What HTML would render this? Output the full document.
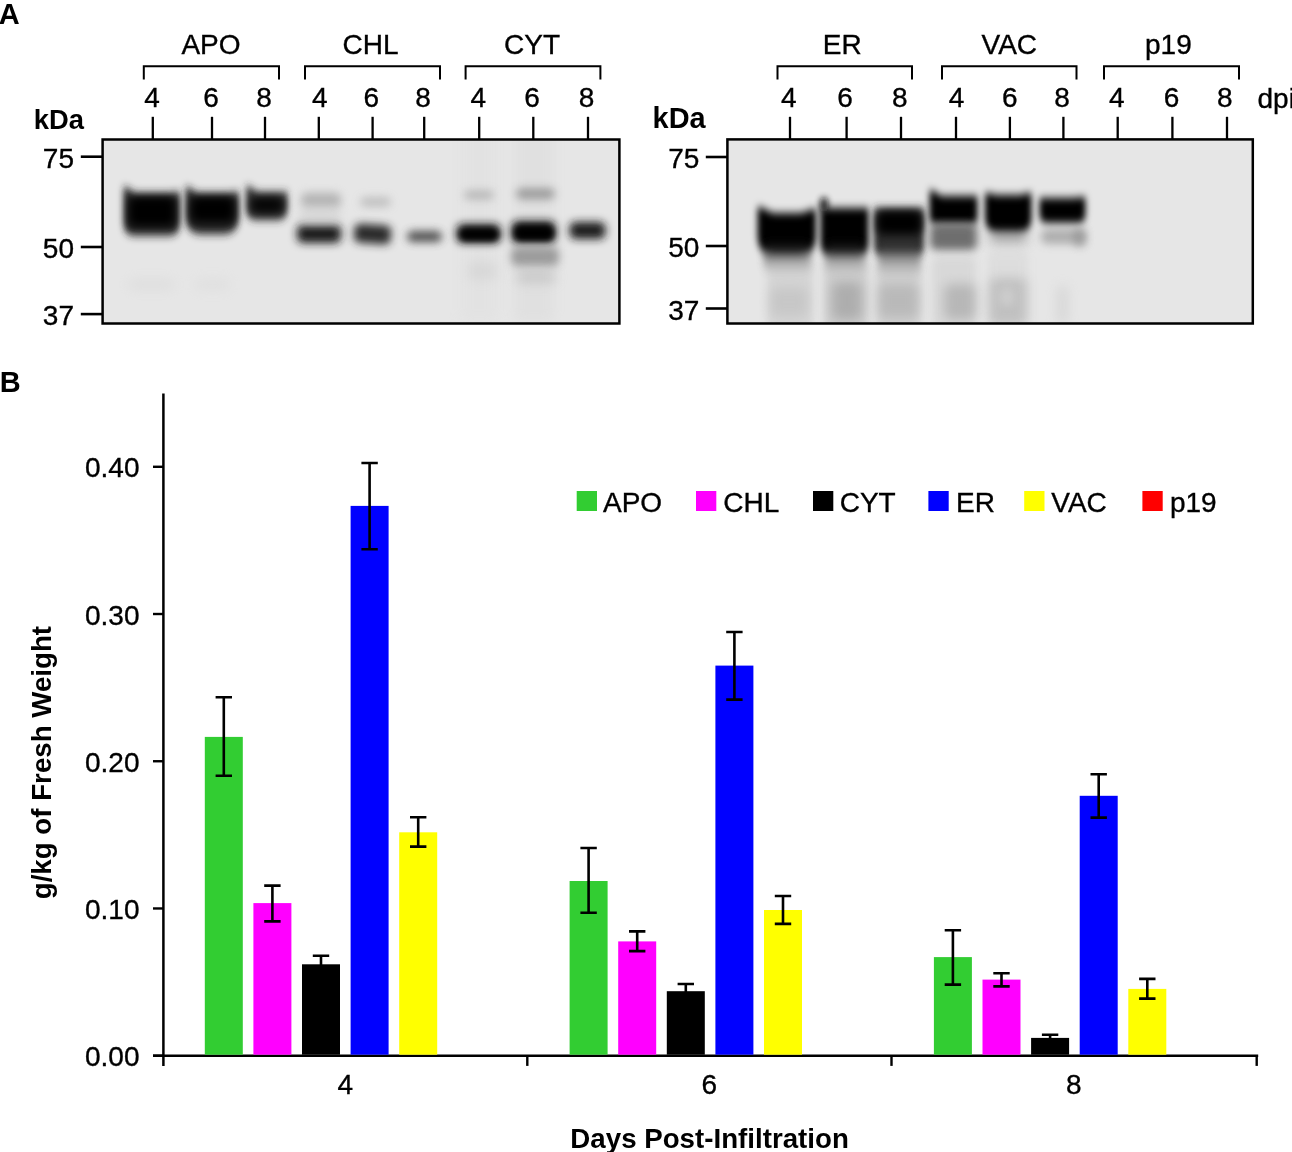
<!DOCTYPE html>
<html lang="en"><head><meta charset="utf-8"><title>Figure</title>
<style>html,body{margin:0;padding:0;background:#fff}svg{display:block}</style></head>
<body>
<svg width="1292" height="1152" viewBox="0 0 1292 1152" font-family="'Liberation Sans', sans-serif" fill="#000">
<defs>
<filter id="b2" filterUnits="userSpaceOnUse" x="0" y="100" width="1292" height="260"><feGaussianBlur stdDeviation="2"/></filter>
<filter id="b3" filterUnits="userSpaceOnUse" x="0" y="100" width="1292" height="260"><feGaussianBlur stdDeviation="3"/></filter>
<filter id="b35" filterUnits="userSpaceOnUse" x="0" y="100" width="1292" height="260"><feGaussianBlur stdDeviation="3 4.5"/></filter>
<filter id="bv" filterUnits="userSpaceOnUse" x="0" y="100" width="1292" height="260"><feGaussianBlur stdDeviation="3.5 7"/></filter>
<filter id="b4" filterUnits="userSpaceOnUse" x="0" y="100" width="1292" height="260"><feGaussianBlur stdDeviation="4"/></filter>
<filter id="b6" filterUnits="userSpaceOnUse" x="0" y="100" width="1292" height="260"><feGaussianBlur stdDeviation="6"/></filter>
<clipPath id="cl"><rect x="103" y="140" width="516" height="183"/></clipPath>
<clipPath id="cr"><rect x="728" y="140" width="525" height="183"/></clipPath>
</defs>
<rect width="1292" height="1152" fill="#fff"/>
<text x="-1.2" y="24" text-anchor="start" font-size="29" font-weight="bold">A</text>
<text x="-0.2" y="392.2" text-anchor="start" font-size="29" font-weight="bold">B</text>
<rect x="102.6" y="139.5" width="516.8" height="184" fill="#e6e6e6"/>
<rect x="727.4" y="139.4" width="525.4" height="184.1" fill="#e6e6e6"/>
<g clip-path="url(#cl)">
<rect x="460" y="120" width="38" height="203" rx="6" fill="#d8d8d8" opacity="0.22" filter="url(#b6)"/>
<rect x="514" y="120" width="40" height="203" rx="6" fill="#d4d4d4" opacity="0.32" filter="url(#b6)"/>
<path d="M123.5 187C129.1 187 131.9 193 137.5 193L166 193C171.6 193 174.4 192 180 192L180 223.5Q180 235.5 168 235.5L135.5 235.5Q123.5 235.5 123.5 223.5Z" fill="#222" opacity="1" filter="url(#b35)"/>
<rect x="129" y="197" width="46" height="29" rx="6" fill="#000" opacity="1" filter="url(#b4)"/>
<path d="M185.5 187C191.1 187 193.9 193 199.5 193L225 193C230.6 193 233.4 192 239 192L239 217Q239 234 222 234L202.5 234Q185.5 234 185.5 217Z" fill="#222" opacity="1" filter="url(#b35)"/>
<rect x="191" y="197" width="43" height="25" rx="6" fill="#000" opacity="1" filter="url(#b4)"/>
<path d="M246 186C251.6 186 254.4 192 260 192L273.5 192C279.1 192 281.9 192 287.5 192L287.5 209Q287.5 220 276.5 220L257 220Q246 220 246 209Z" fill="#2e2e2e" opacity="1" filter="url(#b35)"/>
<rect x="251" y="197" width="32" height="16" rx="6" fill="#000" opacity="0.85" filter="url(#b4)"/>
<rect x="128" y="279" width="47" height="11" rx="6" fill="#ccc" opacity="0.3" filter="url(#b6)"/>
<rect x="195" y="279" width="35" height="11" rx="6" fill="#ccc" opacity="0.25" filter="url(#b6)"/>
<rect x="297" y="224.5" width="44" height="18.5" rx="6" fill="#1e1e1e" opacity="1" filter="url(#b4)"/>
<rect x="301" y="192.5" width="40" height="15.5" rx="6" fill="#999" opacity="0.62" filter="url(#b4)"/>
<rect x="300" y="207" width="40" height="18" rx="6" fill="#ccc" opacity="0.5" filter="url(#b4)"/>
<g transform="rotate(4 372 234)">
<rect x="354" y="224.5" width="37" height="19.0" rx="6" fill="#2a2a2a" opacity="1" filter="url(#b4)"/>
</g>
<rect x="360" y="197" width="31" height="10" rx="6" fill="#b0b0b0" opacity="0.7" filter="url(#b4)"/>
<rect x="407" y="231" width="35" height="11" rx="6" fill="#4a4a4a" opacity="0.95" filter="url(#b4)"/>
<rect x="456.5" y="224" width="44.0" height="19" rx="6" fill="#161616" opacity="1" filter="url(#b4)"/>
<rect x="460" y="229" width="38" height="11" rx="6" fill="#000" opacity="1" filter="url(#b3)"/>
<rect x="464" y="190.5" width="30" height="9.0" rx="6" fill="#a8a8a8" opacity="0.75" filter="url(#b4)"/>
<rect x="511.5" y="221" width="44.0" height="22" rx="6" fill="#161616" opacity="1" filter="url(#b4)"/>
<rect x="514.5" y="226" width="39.0" height="14" rx="6" fill="#000" opacity="1" filter="url(#b3)"/>
<rect x="516" y="188" width="39" height="11.5" rx="6" fill="#8c8c8c" opacity="0.8" filter="url(#b4)"/>
<rect x="511" y="247" width="48" height="19" rx="6" fill="#8a8a8a" opacity="0.8" filter="url(#b4)"/>
<rect x="516" y="271" width="40" height="12" rx="6" fill="#b8b8b8" opacity="0.6" filter="url(#b6)"/>
<rect x="468" y="262" width="29" height="18" rx="6" fill="#c4c4c4" opacity="0.35" filter="url(#b6)"/>
<rect x="569.5" y="222" width="36.0" height="17" rx="6" fill="#1c1c1c" opacity="1" filter="url(#b4)"/>
</g>
<g clip-path="url(#cr)">
<path d="M757.5 207C764.7 207 768.3 213 775.5 213L798 213C805.2 213 808.8 209 816 209L816 236Q816 256 796 256L777.5 256Q757.5 256 757.5 236Z" fill="#050505" opacity="1" filter="url(#b35)"/>
<rect x="763" y="249" width="48" height="16" rx="6" fill="#555" opacity="0.7" filter="url(#bv)"/>
<path d="M820.5 208C826.1 208 828.9 208 834.5 208L854.5 208C860.1 208 862.9 208 868.5 208L868.5 242.5Q868.5 256.5 854.5 256.5L834.5 256.5Q820.5 256.5 820.5 242.5Z" fill="#050505" opacity="1" filter="url(#b35)"/>
<rect x="820" y="197" width="8" height="15" rx="6" fill="#111" opacity="0.9" filter="url(#b3)"/>
<rect x="825" y="249" width="40" height="16" rx="6" fill="#555" opacity="0.7" filter="url(#bv)"/>
<path d="M874 208C879.6 208 882.4 208 888 208L910 208C915.6 208 918.4 208 924 208L924 246Q924 256 914 256L884 256Q874 256 874 246Z" fill="#2a2a2a" opacity="1" filter="url(#b35)"/>
<rect x="877" y="211" width="44.5" height="23" rx="6" fill="#000" opacity="1" filter="url(#b4)"/>
<rect x="878" y="250" width="43" height="18" rx="6" fill="#666" opacity="0.7" filter="url(#bv)"/>
<path d="M929.5 190C935.1 190 937.9 196 943.5 196L963.5 196C969.1 196 971.9 196 977.5 196L977.5 218Q977.5 224 971.5 224L935.5 224Q929.5 224 929.5 218Z" fill="#050505" opacity="1" filter="url(#b35)"/>
<rect x="930" y="224" width="47" height="26" rx="6" fill="#5a5a5a" opacity="0.85" filter="url(#b4)"/>
<path d="M985 193C990.6 193 993.4 195 999 195L1017.5 195C1023.1 195 1025.9 193 1031.5 193L1031.5 218Q1031.5 233 1016.5 233L1000 233Q985 233 985 218Z" fill="#050505" opacity="1" filter="url(#b35)"/>
<rect x="989" y="233" width="39" height="10" rx="6" fill="#888" opacity="0.7" filter="url(#b6)"/>
<path d="M1039.5 198C1045.1 198 1047.9 198 1053.5 198L1071.5 198C1077.1 198 1079.9 197 1085.5 197L1085.5 215Q1085.5 223 1077.5 223L1047.5 223Q1039.5 223 1039.5 215Z" fill="#050505" opacity="1" filter="url(#b35)"/>
<rect x="1041" y="229" width="44" height="15" rx="6" fill="#a0a0a0" opacity="0.8" filter="url(#b4)"/>
<rect x="1074" y="228" width="12" height="19" rx="6" fill="#888" opacity="0.6" filter="url(#b4)"/>
<rect x="767" y="258" width="46" height="72" rx="6" fill="#b8b8b8" opacity="0.38" filter="url(#b4)"/>
<rect x="824" y="258" width="44" height="72" rx="6" fill="#b0b0b0" opacity="0.45" filter="url(#b4)"/>
<rect x="876" y="262" width="45" height="68" rx="6" fill="#b4b4b4" opacity="0.42" filter="url(#b4)"/>
<rect x="932" y="256" width="44" height="74" rx="6" fill="#bcbcbc" opacity="0.32" filter="url(#b4)"/>
<rect x="988" y="250" width="40" height="80" rx="6" fill="#c4c4c4" opacity="0.25" filter="url(#b4)"/>
<rect x="770" y="288" width="38" height="28" rx="6" fill="#aaa" opacity="0.3" filter="url(#b6)"/>
<rect x="832" y="282" width="30" height="38" rx="6" fill="#888" opacity="0.45" filter="url(#b6)"/>
<rect x="878" y="284" width="41" height="34" rx="6" fill="#999" opacity="0.4" filter="url(#b6)"/>
<rect x="944" y="284" width="32" height="36" rx="6" fill="#909090" opacity="0.45" filter="url(#b6)"/>
<rect x="989" y="278" width="38" height="47" rx="6" fill="#999" opacity="0.42" filter="url(#b6)"/>
<rect x="1000" y="288" width="14" height="18" rx="6" fill="#e6e6e6" opacity="0.35" filter="url(#b4)"/>
<rect x="1057" y="285" width="11" height="40" rx="6" fill="#c0c0c0" opacity="0.4" filter="url(#b6)"/>
</g>
<rect x="102.6" y="139.5" width="516.8" height="184" fill="none" stroke="#000" stroke-width="2.5"/>
<rect x="727.4" y="139.4" width="525.4" height="184.1" fill="none" stroke="#000" stroke-width="2.5"/>
<text x="33.8" y="128.5" text-anchor="start" font-size="27.4" font-weight="bold">kDa</text>
<text x="652.6" y="128.2" text-anchor="start" font-size="28.9" font-weight="bold">kDa</text>
<text x="74" y="167.7" text-anchor="end" font-size="28" stroke="#000" stroke-width="0.35">75</text>
<line x1="80.8" y1="156.7" x2="102" y2="156.7" stroke="#000" stroke-width="2.6"/>
<text x="74" y="258" text-anchor="end" font-size="28" stroke="#000" stroke-width="0.35">50</text>
<line x1="80.8" y1="247" x2="102" y2="247" stroke="#000" stroke-width="2.6"/>
<text x="74" y="325.1" text-anchor="end" font-size="28" stroke="#000" stroke-width="0.35">37</text>
<line x1="80.8" y1="314.1" x2="102" y2="314.1" stroke="#000" stroke-width="2.6"/>
<text x="699.3" y="168" text-anchor="end" font-size="28" stroke="#000" stroke-width="0.35">75</text>
<line x1="705.8" y1="157" x2="727.5" y2="157" stroke="#000" stroke-width="2.6"/>
<text x="699.3" y="257" text-anchor="end" font-size="28" stroke="#000" stroke-width="0.35">50</text>
<line x1="705.8" y1="246" x2="727.5" y2="246" stroke="#000" stroke-width="2.6"/>
<text x="699.3" y="319.5" text-anchor="end" font-size="28" stroke="#000" stroke-width="0.35">37</text>
<line x1="705.8" y1="308.5" x2="727.5" y2="308.5" stroke="#000" stroke-width="2.6"/>
<text x="211" y="53.5" text-anchor="middle" font-size="28" stroke="#000" stroke-width="0.35">APO</text>
<path d="M143.8 79.5V66.3H279V79.5" fill="none" stroke="#000" stroke-width="2"/>
<text x="152" y="106.5" text-anchor="middle" font-size="28" stroke="#000" stroke-width="0.35">4</text>
<text x="211" y="106.5" text-anchor="middle" font-size="28" stroke="#000" stroke-width="0.35">6</text>
<text x="264" y="106.5" text-anchor="middle" font-size="28" stroke="#000" stroke-width="0.35">8</text>
<line x1="152.8" y1="116.8" x2="152.8" y2="139" stroke="#000" stroke-width="2.3"/>
<line x1="212" y1="116.8" x2="212" y2="139" stroke="#000" stroke-width="2.3"/>
<line x1="265" y1="116.8" x2="265" y2="139" stroke="#000" stroke-width="2.3"/>
<text x="370.6" y="53.5" text-anchor="middle" font-size="28" stroke="#000" stroke-width="0.35">CHL</text>
<path d="M305 79.5V66.3H440V79.5" fill="none" stroke="#000" stroke-width="2"/>
<text x="319.7" y="106.5" text-anchor="middle" font-size="28" stroke="#000" stroke-width="0.35">4</text>
<text x="371.2" y="106.5" text-anchor="middle" font-size="28" stroke="#000" stroke-width="0.35">6</text>
<text x="423" y="106.5" text-anchor="middle" font-size="28" stroke="#000" stroke-width="0.35">8</text>
<line x1="318.8" y1="116.8" x2="318.8" y2="139" stroke="#000" stroke-width="2.3"/>
<line x1="372.6" y1="116.8" x2="372.6" y2="139" stroke="#000" stroke-width="2.3"/>
<line x1="424.2" y1="116.8" x2="424.2" y2="139" stroke="#000" stroke-width="2.3"/>
<text x="532" y="53.5" text-anchor="middle" font-size="28" stroke="#000" stroke-width="0.35">CYT</text>
<path d="M465.6 79.5V66.3H600.4V79.5" fill="none" stroke="#000" stroke-width="2"/>
<text x="478.3" y="106.5" text-anchor="middle" font-size="28" stroke="#000" stroke-width="0.35">4</text>
<text x="532.1" y="106.5" text-anchor="middle" font-size="28" stroke="#000" stroke-width="0.35">6</text>
<text x="586.5" y="106.5" text-anchor="middle" font-size="28" stroke="#000" stroke-width="0.35">8</text>
<line x1="479.2" y1="116.8" x2="479.2" y2="139" stroke="#000" stroke-width="2.3"/>
<line x1="533.3" y1="116.8" x2="533.3" y2="139" stroke="#000" stroke-width="2.3"/>
<line x1="588" y1="116.8" x2="588" y2="139" stroke="#000" stroke-width="2.3"/>
<text x="842.3" y="53.5" text-anchor="middle" font-size="28" stroke="#000" stroke-width="0.35">ER</text>
<path d="M777.5 79.5V66.3H912V79.5" fill="none" stroke="#000" stroke-width="2"/>
<text x="788.7" y="106.5" text-anchor="middle" font-size="28" stroke="#000" stroke-width="0.35">4</text>
<text x="845" y="106.5" text-anchor="middle" font-size="28" stroke="#000" stroke-width="0.35">6</text>
<text x="899.8" y="106.5" text-anchor="middle" font-size="28" stroke="#000" stroke-width="0.35">8</text>
<line x1="790" y1="116.8" x2="790" y2="139" stroke="#000" stroke-width="2.3"/>
<line x1="846.6" y1="116.8" x2="846.6" y2="139" stroke="#000" stroke-width="2.3"/>
<line x1="901" y1="116.8" x2="901" y2="139" stroke="#000" stroke-width="2.3"/>
<text x="1009.3" y="53.5" text-anchor="middle" font-size="28" stroke="#000" stroke-width="0.35">VAC</text>
<path d="M942 79.5V66.3H1076.5V79.5" fill="none" stroke="#000" stroke-width="2"/>
<text x="956.6" y="106.5" text-anchor="middle" font-size="28" stroke="#000" stroke-width="0.35">4</text>
<text x="1009.9" y="106.5" text-anchor="middle" font-size="28" stroke="#000" stroke-width="0.35">6</text>
<text x="1062" y="106.5" text-anchor="middle" font-size="28" stroke="#000" stroke-width="0.35">8</text>
<line x1="956" y1="116.8" x2="956" y2="139" stroke="#000" stroke-width="2.3"/>
<line x1="1009.9" y1="116.8" x2="1009.9" y2="139" stroke="#000" stroke-width="2.3"/>
<line x1="1063.4" y1="116.8" x2="1063.4" y2="139" stroke="#000" stroke-width="2.3"/>
<text x="1168.4" y="53.5" text-anchor="middle" font-size="28" stroke="#000" stroke-width="0.35">p19</text>
<path d="M1104 79.5V66.3H1239V79.5" fill="none" stroke="#000" stroke-width="2"/>
<text x="1116.9" y="106.5" text-anchor="middle" font-size="28" stroke="#000" stroke-width="0.35">4</text>
<text x="1171.5" y="106.5" text-anchor="middle" font-size="28" stroke="#000" stroke-width="0.35">6</text>
<text x="1224.8" y="106.5" text-anchor="middle" font-size="28" stroke="#000" stroke-width="0.35">8</text>
<line x1="1117.7" y1="116.8" x2="1117.7" y2="139" stroke="#000" stroke-width="2.3"/>
<line x1="1172.4" y1="116.8" x2="1172.4" y2="139" stroke="#000" stroke-width="2.3"/>
<line x1="1227" y1="116.8" x2="1227" y2="139" stroke="#000" stroke-width="2.3"/>
<text x="1257.5" y="107.5" text-anchor="start" font-size="28" stroke="#000" stroke-width="0.35">dpi</text>
<line x1="163.4" y1="393.5" x2="163.4" y2="1065.9" stroke="#000" stroke-width="2.5"/>
<line x1="153" y1="1055.7" x2="1258.2" y2="1055.7" stroke="#000" stroke-width="2.5"/>
<line x1="153" y1="1055.7" x2="163.4" y2="1055.7" stroke="#000" stroke-width="2.4"/>
<text x="139.5" y="1066.4" text-anchor="end" font-size="28" stroke="#000" stroke-width="0.35">0.00</text>
<line x1="153" y1="908.47" x2="163.4" y2="908.47" stroke="#000" stroke-width="2.4"/>
<text x="139.5" y="919.1700000000001" text-anchor="end" font-size="28" stroke="#000" stroke-width="0.35">0.10</text>
<line x1="153" y1="761.24" x2="163.4" y2="761.24" stroke="#000" stroke-width="2.4"/>
<text x="139.5" y="771.94" text-anchor="end" font-size="28" stroke="#000" stroke-width="0.35">0.20</text>
<line x1="153" y1="614.01" x2="163.4" y2="614.01" stroke="#000" stroke-width="2.4"/>
<text x="139.5" y="624.71" text-anchor="end" font-size="28" stroke="#000" stroke-width="0.35">0.30</text>
<line x1="153" y1="466.7800000000001" x2="163.4" y2="466.7800000000001" stroke="#000" stroke-width="2.4"/>
<text x="139.5" y="477.4800000000001" text-anchor="end" font-size="28" stroke="#000" stroke-width="0.35">0.40</text>
<line x1="527.3" y1="1055.7" x2="527.3" y2="1065.9" stroke="#000" stroke-width="2.4"/>
<line x1="891.5" y1="1055.7" x2="891.5" y2="1065.9" stroke="#000" stroke-width="2.4"/>
<line x1="1256.7" y1="1055.7" x2="1256.7" y2="1065.9" stroke="#000" stroke-width="2.4"/>
<rect x="204.8" y="736.9" width="38" height="317.8" fill="#32cd32"/>
<path d="M215.6 697.3H232.0M223.8 697.3V775.8M215.6 775.8H232.0" stroke="#000" stroke-width="2.6" fill="none"/>
<rect x="253.4" y="903.1" width="38" height="151.6" fill="#ff00ff"/>
<path d="M264.2 885.6H280.6M272.4 885.6V921.4M264.2 921.4H280.6" stroke="#000" stroke-width="2.6" fill="none"/>
<rect x="302.0" y="964.3" width="38" height="90.4" fill="#000000"/>
<path d="M312.8 955.7H329.2M321.0 955.7V968M312.8 968H329.2" stroke="#000" stroke-width="2.6" fill="none"/>
<rect x="350.6" y="505.9" width="38" height="548.8" fill="#0000ff"/>
<path d="M361.4 463H377.8M369.6 463V549.3M361.4 549.3H377.8" stroke="#000" stroke-width="2.6" fill="none"/>
<rect x="399.2" y="832.3" width="38" height="222.4" fill="#ffff00"/>
<path d="M410.0 817.3H426.4M418.2 817.3V846.6M410.0 846.6H426.4" stroke="#000" stroke-width="2.6" fill="none"/>
<rect x="569.6" y="881" width="38" height="173.7" fill="#32cd32"/>
<path d="M580.4 848H596.8M588.6 848V912.8M580.4 912.8H596.8" stroke="#000" stroke-width="2.6" fill="none"/>
<rect x="618.2" y="941.4" width="38" height="113.3" fill="#ff00ff"/>
<path d="M629.0 931.4H645.4M637.2 931.4V951.1M629.0 951.1H645.4" stroke="#000" stroke-width="2.6" fill="none"/>
<rect x="666.8" y="991.2" width="38" height="63.5" fill="#000000"/>
<path d="M677.6 984H694.0M685.8 984V995M677.6 995H694.0" stroke="#000" stroke-width="2.6" fill="none"/>
<rect x="715.4" y="665.6" width="38" height="389.1" fill="#0000ff"/>
<path d="M726.2 632H742.6M734.4 632V699.6M726.2 699.6H742.6" stroke="#000" stroke-width="2.6" fill="none"/>
<rect x="764.0" y="910" width="38" height="144.7" fill="#ffff00"/>
<path d="M774.8 896H791.2M783.0 896V923.9M774.8 923.9H791.2" stroke="#000" stroke-width="2.6" fill="none"/>
<rect x="933.9" y="957.1" width="38" height="97.6" fill="#32cd32"/>
<path d="M944.7 930.3H961.1M952.9 930.3V984.6M944.7 984.6H961.1" stroke="#000" stroke-width="2.6" fill="none"/>
<rect x="982.5" y="979.6" width="38" height="75.1" fill="#ff00ff"/>
<path d="M993.3 973.2H1009.7M1001.5 973.2V986.4M993.3 986.4H1009.7" stroke="#000" stroke-width="2.6" fill="none"/>
<rect x="1031.1" y="1037.9" width="38" height="16.8" fill="#000000"/>
<path d="M1041.9 1034.7H1058.3M1050.1 1034.7V1041M1041.9 1041H1058.3" stroke="#000" stroke-width="2.6" fill="none"/>
<rect x="1079.7" y="795.8" width="38" height="258.9" fill="#0000ff"/>
<path d="M1090.5 774.3H1106.9M1098.7 774.3V817.6M1090.5 817.6H1106.9" stroke="#000" stroke-width="2.6" fill="none"/>
<rect x="1128.3" y="988.9" width="38" height="65.8" fill="#ffff00"/>
<path d="M1139.1 978.9H1155.5M1147.3 978.9V998.6M1139.1 998.6H1155.5" stroke="#000" stroke-width="2.6" fill="none"/>
<text x="345.2" y="1094" text-anchor="middle" font-size="28" stroke="#000" stroke-width="0.35">4</text>
<text x="709.3" y="1094" text-anchor="middle" font-size="28" stroke="#000" stroke-width="0.35">6</text>
<text x="1073.7" y="1094" text-anchor="middle" font-size="28" stroke="#000" stroke-width="0.35">8</text>
<text x="709.6" y="1147.6" text-anchor="middle" font-size="27.7" font-weight="bold">Days Post-Infiltration</text>
<text transform="translate(50.7,762.6) rotate(-90)" text-anchor="middle" font-size="27.7" font-weight="bold">g/kg of Fresh Weight</text>
<rect x="576.7" y="491" width="20.3" height="20" fill="#32cd32"/>
<text x="603" y="512" text-anchor="start" font-size="28" stroke="#000" stroke-width="0.35">APO</text>
<rect x="696" y="491" width="20.3" height="20" fill="#ff00ff"/>
<text x="723.3" y="512" text-anchor="start" font-size="28" stroke="#000" stroke-width="0.35">CHL</text>
<rect x="813" y="491" width="20.3" height="20" fill="#000"/>
<text x="839.7" y="512" text-anchor="start" font-size="28" stroke="#000" stroke-width="0.35">CYT</text>
<rect x="928.4" y="491" width="20.3" height="20" fill="#0000ff"/>
<text x="956.1" y="512" text-anchor="start" font-size="28" stroke="#000" stroke-width="0.35">ER</text>
<rect x="1024.2" y="491" width="20.3" height="20" fill="#ffff00"/>
<text x="1051.3" y="512" text-anchor="start" font-size="28" stroke="#000" stroke-width="0.35">VAC</text>
<rect x="1142.4" y="491" width="20.3" height="20" fill="#ff0000"/>
<text x="1169.9" y="512" text-anchor="start" font-size="28" stroke="#000" stroke-width="0.35">p19</text>
</svg>
</body></html>
